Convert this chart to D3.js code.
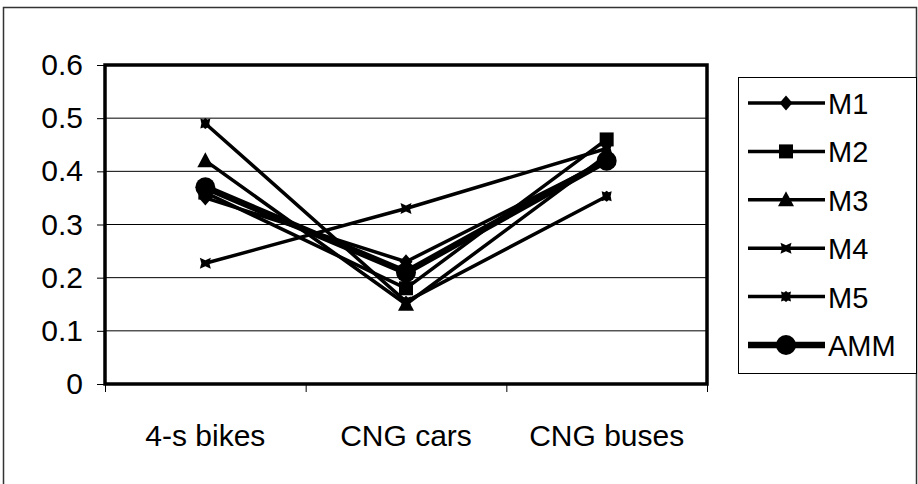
<html>
<meta charset="utf-8">
<head>
<script src="https://d3js.org/d3.v7.min.js"></script>
<style>
html, body {margin:0; padding:0; background:#fff;}
svg {display:block;}
</style>
</head>
<body>
<svg class="svg"></svg>
<script>

// data
const categories = ["4-s bikes", "CNG cars", "CNG buses"]
const seriesNames = ["M1", "M2", "M3", "M4", "M5", "AMM"]
const m1 = [0.35, 0.23, 0.42]
const m2 = [0.36, 0.18, 0.46]
const m3 = [0.42, 0.15, 0.43]
const m4 = [0.227, 0.33, 0.443]
const m5 = [0.49, 0.155, 0.353]
const amm = [0.37, 0.21, 0.42]
const yTicks = [0, 0.1, 0.2, 0.3, 0.4, 0.5, 0.6]

const seriesValues = [m1, m2, m3, m4, m5, amm]

const W = 918, H = 484
const plot = {left:105, right:707, top:65, bottom:384}
const font = "'Liberation Sans', Arial, sans-serif"

var svg = d3.select("svg")
  .attr("width", W)
  .attr("height", H)

// outer chart frame
svg.append("rect")
  .attr("x", 3.5).attr("y", 7.5)
  .attr("width", 913).attr("height", 490)
  .attr("fill", "#fff")
  .attr("stroke", "#333")
  .attr("stroke-width", 1.5)

var xBand = d3.scaleBand()
  .domain(categories)
  .range([plot.left, plot.right])

var xScale = d3.scalePoint()
  .domain(categories)
  .range([plot.left, plot.right])
  .padding(0.5)

var yScale = d3.scaleLinear()
  .domain([0, 0.6])
  .range([plot.bottom, plot.top])

// gridlines
svg.append("g")
  .selectAll("line")
  .data(yTicks.slice(1, -1))
  .enter().append("line")
  .attr("x1", plot.left).attr("x2", plot.right)
  .attr("y1", d => yScale(d)).attr("y2", d => yScale(d))
  .attr("stroke", "#000")
  .attr("stroke-width", 1)

// y axis
var yAxis = d3.axisLeft(yScale)
  .tickValues(yTicks)
  .tickSize(8)
  .tickPadding(14)
  .tickFormat(d => d === 0 ? "0" : d3.format(".1f")(d))

svg.append("g")
  .attr("transform", "translate(" + plot.left + ",0)")
  .call(yAxis)
  .call(g => g.select(".domain").remove())
  .call(g => g.selectAll("line").attr("stroke", "#000").attr("stroke-width", 1))
  .call(g => g.selectAll("text").style("font-family", font).style("font-size", "30px").attr("fill", "#000"))

// x axis ticks between categories
var xAxis = d3.axisBottom(d3.scaleLinear().domain([0, 3]).range([plot.left, plot.right]))
  .tickValues([0, 1, 2, 3])
  .tickSize(8)
  .tickFormat("")

svg.append("g")
  .attr("transform", "translate(0," + plot.bottom + ")")
  .call(xAxis)
  .call(g => g.select(".domain").remove())
  .call(g => g.selectAll("line").attr("stroke", "#000").attr("stroke-width", 1))

svg.append("g")
  .selectAll("text")
  .data(categories)
  .enter().append("text")
  .attr("x", d => xBand(d) + xBand.bandwidth() / 2)
  .attr("y", 446)
  .attr("text-anchor", "middle")
  .style("font-family", font)
  .style("font-size", "30px")
  .text(d => d)

// plot border
svg.append("rect")
  .attr("x", plot.left).attr("y", plot.top)
  .attr("width", plot.right - plot.left)
  .attr("height", plot.bottom - plot.top)
  .attr("fill", "none")
  .attr("stroke", "#000")
  .attr("stroke-width", 3.5)

// marker shapes
const shapes = {
  M1: {draw(c, s) { c.moveTo(0, -7.5); c.lineTo(6.5, 0); c.lineTo(0, 7.5); c.lineTo(-6.5, 0); c.closePath() }},
  M2: {draw(c, s) { c.rect(-7, -7, 14, 14) }},
  M3: {draw(c, s) { c.moveTo(0, -8.5); c.lineTo(8, 6.5); c.lineTo(-8, 6.5); c.closePath() }},
  M4: {draw(c, s) { c.moveTo(-5.5, -5.5); c.lineTo(0, -3); c.lineTo(5.5, -5.5); c.lineTo(4, 0); c.lineTo(5.5, 5.5); c.lineTo(0, 3); c.lineTo(-5.5, 5.5); c.lineTo(-4, 0); c.closePath() }},
  M5: {draw(c, s) { c.moveTo(-5, -5); c.lineTo(-2, -4); c.lineTo(0, -5.5); c.lineTo(2, -4); c.lineTo(5, -5); c.lineTo(4, 0); c.lineTo(5, 5); c.lineTo(2, 4); c.lineTo(0, 5.5); c.lineTo(-2, 4); c.lineTo(-5, 5); c.lineTo(-4, 0); c.closePath() }},
  AMM: {draw(c, s) { c.arc(0, 0, 10, 0, 2 * Math.PI) }}
}
const lineWidth = {M1:3.5, M2:3.5, M3:3.5, M4:3.5, M5:3.5, AMM:6.5}

var line = d3.line()
  .x((d, i) => xScale(categories[i]))
  .y(d => yScale(d))

seriesNames.forEach(function(name, k) {
  var vals = seriesValues[k]
  svg.append("path")
    .datum(vals)
    .attr("d", line)
    .attr("fill", "none")
    .attr("stroke", "#000")
    .attr("stroke-width", lineWidth[name])
    .attr("stroke-linejoin", "round")

  svg.append("g")
    .selectAll("path")
    .data(vals)
    .enter().append("path")
    .attr("d", d3.symbol().type(shapes[name]))
    .attr("transform", (d, i) => "translate(" + xScale(categories[i]) + "," + yScale(d) + ")")
    .attr("fill", "#000")
})

// legend
var legend = svg.append("g")
legend.append("rect")
  .attr("x", 738.5).attr("y", 77.5)
  .attr("width", 178).attr("height", 296)
  .attr("fill", "#fff")
  .attr("stroke", "#000")
  .attr("stroke-width", 1)

var legendY = d3.scalePoint()
  .domain(seriesNames)
  .range([103, 345])

var item = legend.selectAll(".item")
  .data(seriesNames)
  .enter().append("g")
  .attr("class", "item")
  .attr("transform", d => "translate(0," + legendY(d) + ")")

item.append("line")
  .attr("x1", 748).attr("x2", 825)
  .attr("stroke", "#000")
  .attr("stroke-width", d => lineWidth[d])

item.append("path")
  .attr("d", d => d3.symbol().type(shapes[d])())
  .attr("transform", "translate(786,0)")
  .attr("fill", "#000")

item.append("text")
  .attr("x", 828)
  .attr("y", 11)
  .style("font-family", font)
  .style("font-size", "29px")
  .text(d => d)

</script>
</body>
</html>
